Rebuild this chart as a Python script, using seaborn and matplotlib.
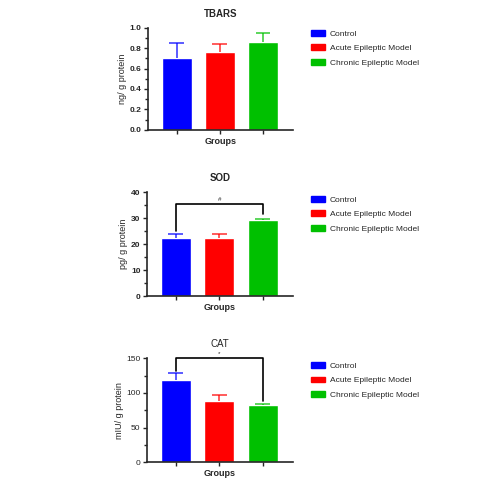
import numpy as np
import matplotlib
matplotlib.use("Agg")
import matplotlib.pyplot as plt
from matplotlib.patches import Patch
from matplotlib.ticker import MultipleLocator, FormatStrFormatter
import seaborn as sns

groups = ["Control", "Acute Epileptic Model", "Chronic Epileptic Model"]
colors = ["#0000FF", "#FF0000", "#00C000"]

tbars_mean = [0.70, 0.76, 0.86]
tbars_sem = [0.15, 0.08, 0.09]
sod_mean = [22.5, 22.5, 29.3]
sod_sem = [1.3, 1.5, 0.5]
cat_mean = [118, 88, 82]
cat_sem = [11, 9, 2]

panels = [
    ("TBARS", "ng/ g protein", tbars_mean, tbars_sem, 1.0, 0.2, 0.1, "%.1f", None, "bold"),
    ("SOD", "pg/ g protein", sod_mean, sod_sem, 40, 10, 5, "%d", ("#", 35.4, 25.0, 31.5), "bold"),
    ("CAT", "mIU/ g protein", cat_mean, cat_sem, 150, 50, 25, "%d", ("*", 150, 131, 89), "normal"),
]
# axes boxes in figure fractions (left, bottom, width, height)
boxes = [
    (0.295, 0.729, 0.290, 0.213),
    (0.293, 0.382, 0.292, 0.217),
    (0.293, 0.035, 0.292, 0.217),
]
legend_tops = [0.945, 0.598, 0.251]

sns.set_style("ticks")
plt.rcParams["font.family"] = ["Liberation Sans", "DejaVu Sans"]

fig = plt.figure(figsize=(5.01, 4.79), dpi=100)

for (title, ylab, mean, sem, ymax, major, minor, fmt, sig, weight), box, ltop in zip(panels, boxes, legend_tops):
    ax = fig.add_axes(box)
    sns.barplot(x=groups, y=mean, hue=groups, palette=colors, width=0.7,
                saturation=1, legend=False, ax=ax)
    xs = np.arange(len(groups))
    for x, m, s, c in zip(xs, mean, sem, colors):
        ax.vlines(x, m, m + s, color=c, lw=1.2, alpha=0.75)
        ax.hlines(m + s, x - 0.17, x + 0.17, color=c, lw=1.2, alpha=0.75)
    if sig is not None:
        label, top, left_low, right_low = sig
        ax.plot([0, 0, 2, 2], [left_low, top, top, right_low], color="black",
                lw=1.2, clip_on=False)
        ax.text(1, top + ymax * 0.02, label, ha="center", va="bottom", fontsize=4.5)
    ax.set_xlim(-0.67, 2.70)
    ax.set_ylim(0, ymax)
    ax.yaxis.set_major_locator(MultipleLocator(major))
    ax.yaxis.set_minor_locator(MultipleLocator(minor))
    ax.yaxis.set_major_formatter(FormatStrFormatter(fmt))
    ax.set_xticks(xs)
    ax.set_xticklabels([])
    ax.tick_params(axis="both", which="major", labelsize=6, length=3, width=1, pad=1.5)
    ax.tick_params(axis="y", which="minor", length=2, width=1)
    for lab in ax.get_yticklabels():
        lab.set_fontweight(weight)
    for sp in ["left", "bottom"]:
        ax.spines[sp].set_linewidth(1.2)
    sns.despine(ax=ax)
    ax.set_title(title, fontsize=7, fontweight=weight, pad=8)
    ax.set_xlabel("Groups", fontsize=6.5, fontweight="bold", labelpad=0.5)
    ax.set_ylabel(ylab, fontsize=6.5, labelpad=2)

    handles = [Patch(facecolor=c, edgecolor=c) for c in colors]
    fig.legend(handles, groups, loc="upper left", bbox_to_anchor=(0.615, ltop),
               frameon=False, fontsize=6, handlelength=1.6, handleheight=0.7,
               handletextpad=0.6, labelspacing=0.8, borderaxespad=0)

fig.savefig("out.png", dpi=100)
